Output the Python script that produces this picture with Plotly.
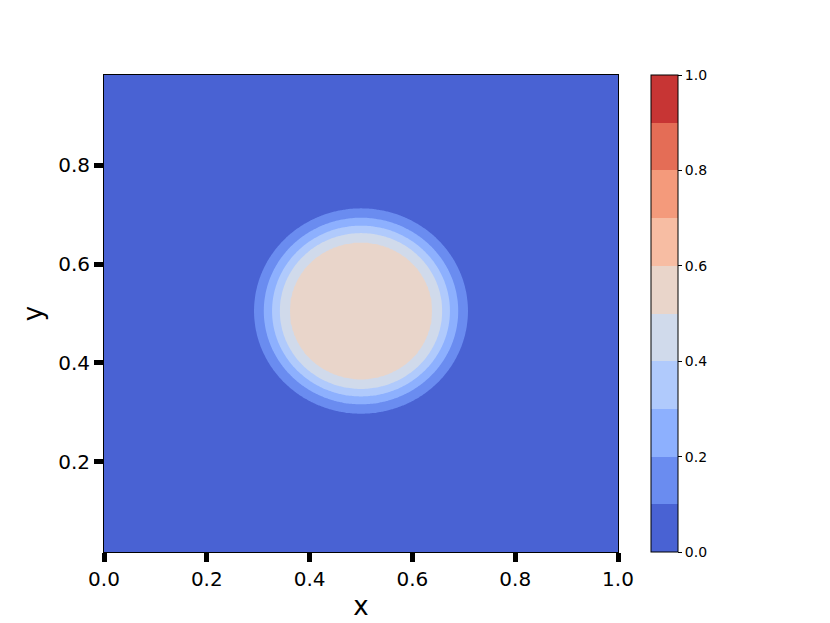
import numpy as np
import plotly.graph_objects as go

# ---- data ----
# radial profile of the field around the blob centre (radius, value)
PROFILE_R = [0.0, 0.110, 0.139, 0.158, 0.173, 0.189, 0.208, 0.226, 0.70]
PROFILE_V = [0.56, 0.545, 0.50, 0.40, 0.30, 0.20, 0.10, 0.02, 0.0]
CENTER_X = 0.50
CENTER_Y = 0.505

X_RANGE = [0.0, 1.0]
Y_RANGE = [1 / 60, 59 / 60]

LEVELS_START, LEVELS_END, LEVELS_STEP = 0.0, 1.0, 0.1

# coolwarm colours at band midpoints (0.05 ... 0.95)
BAND_COLORS = ["#4962d3", "#6a8cf0", "#8db0fe", "#b0cafc", "#d0daeb",
               "#e9d5ca", "#f7bda3", "#f49a7b", "#e46d56", "#c73534"]

X_TICKS = [0.0, 0.2, 0.4, 0.6, 0.8, 1.0]
X_TICK_TEXT = ["0.0", "0.2", "0.4", "0.6", "0.8", "1.0"]
Y_TICKS = [0.2, 0.4, 0.6, 0.8]
Y_TICK_TEXT = ["0.2", "0.4", "0.6", "0.8"]
CB_TICKS = [0.0, 0.2, 0.4, 0.6, 0.8, 1.0]
CB_TICK_TEXT = ["0.0", "0.2", "0.4", "0.6", "0.8", "1.0"]

# ---- build field from the read profile ----
xg = np.linspace(X_RANGE[0], X_RANGE[1], 301)
yg = np.linspace(Y_RANGE[0], Y_RANGE[1], 291)
XX, YY = np.meshgrid(xg, yg)
dist = np.sqrt((XX - CENTER_X) ** 2 + (YY - CENTER_Y) ** 2)
Z = np.interp(dist, PROFILE_R, PROFILE_V)

# step colourscale robust to plotly's band sampling position
n = len(BAND_COLORS)
a = [(k + 1) / (n + 1) for k in range(n)]
b = [(k + 0.5) / n for k in range(n)]
bounds = [0.0]
for k in range(n - 1):
    hi = max(a[k], b[k])
    lo = min(a[k + 1], b[k + 1])
    bounds.append((hi + lo) / 2)
bounds.append(1.0)
colorscale = []
for k in range(n):
    colorscale.append([bounds[k], BAND_COLORS[k]])
    colorscale.append([bounds[k + 1], BAND_COLORS[k]])

FONT = "DejaVu Sans"

fig = go.Figure(go.Contour(
    x=xg, y=yg, z=Z,
    colorscale=colorscale,
    zmin=0, zmax=1,
    contours=dict(start=LEVELS_START, end=LEVELS_END, size=LEVELS_STEP,
                  coloring="fill", showlines=False),
    line=dict(width=0),
    colorbar=dict(
        x=(651 - 104) / 514, xanchor="left", xpad=0,
        y=0.5, yanchor="middle", len=1.0, lenmode="fraction", ypad=0,
        thickness=27, thicknessmode="pixels",
        outlinewidth=1, outlinecolor="black",
        tickmode="array", tickvals=CB_TICKS, ticktext=CB_TICK_TEXT,
        ticks="outside", ticklen=4, tickwidth=1, tickcolor="black",
        tickfont=dict(family=FONT, size=14, color="black"),
    ),
    hoverinfo="skip",
))

# the page body adds an 8px offset, so the figure is drawn smaller
fig.update_layout(
    width=822, height=619,
    margin=dict(l=96, r=212, t=67, b=70),
    paper_bgcolor="white", plot_bgcolor="white",
    font=dict(family=FONT, color="black"),
    xaxis=dict(range=X_RANGE, tickmode="array", tickvals=X_TICKS, ticktext=X_TICK_TEXT,
               ticks="outside", ticklen=9, tickwidth=5, tickcolor="black",
               showline=True, linecolor="black", linewidth=1, mirror=True,
               showgrid=False, zeroline=False,
               tickfont=dict(family=FONT, size=20, color="black"),
               title=dict(text="x", font=dict(family=FONT, size=26, color="black"), standoff=6)),
    yaxis=dict(range=Y_RANGE, tickmode="array", tickvals=Y_TICKS, ticktext=Y_TICK_TEXT,
               ticks="outside", ticklen=9, tickwidth=5, tickcolor="black",
               showline=True, linecolor="black", linewidth=1, mirror=True,
               showgrid=False, zeroline=False,
               tickfont=dict(family=FONT, size=20, color="black"),
               title=dict(text="y", font=dict(family=FONT, size=26, color="black"), standoff=8)),
)

fig.write_html("out.html")
